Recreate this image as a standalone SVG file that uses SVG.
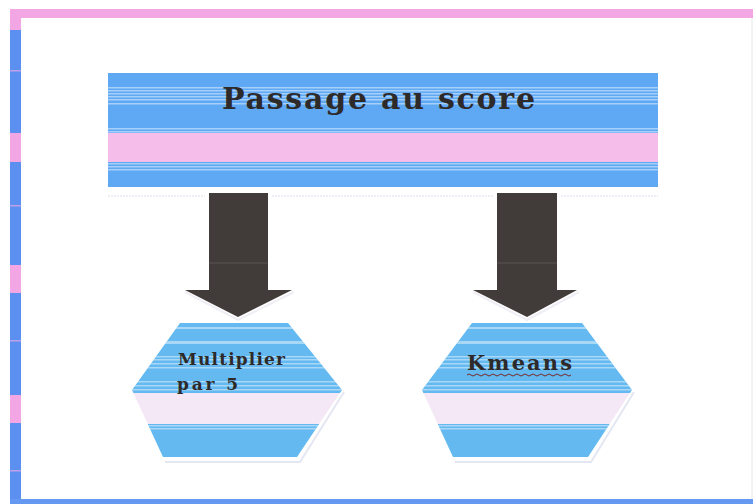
<svg xmlns="http://www.w3.org/2000/svg" width="753" height="504" viewBox="0 0 753 504">
<style>
.t{font-family:"DejaVu Serif","Liberation Serif",serif;font-weight:bold;fill:#2e2a2a}
.stripe{fill:#ffffff;opacity:0.45}
.arrow{fill:#413b39}
.faint{stroke:#dcdde8;stroke-width:1;fill:none;stroke-dasharray:2 1}
</style>
<defs>
<clipPath id="hex1"><polygon points="180,323 288,323 342,390 297,457 163,457 132,390"/></clipPath>
<clipPath id="hex2"><polygon points="472,323 582,323 632,390 588,457 453,457 422,390"/></clipPath>
<g id="hexfill">
<rect x="0" y="323" width="753" height="70" fill="#63b9f0"/>
<rect x="0" y="327" width="753" height="2" class="stripe"/>
<rect x="0" y="341" width="753" height="3" class="stripe"/>
<rect x="0" y="356" width="753" height="1.5" class="stripe"/>
<rect x="0" y="359" width="753" height="1.5" class="stripe"/>
<rect x="0" y="363" width="753" height="1.5" class="stripe"/>
<rect x="0" y="367" width="753" height="1.5" class="stripe"/>
<rect x="0" y="381" width="753" height="1.5" class="stripe"/>
<rect x="0" y="385" width="753" height="1.5" class="stripe"/>
<rect x="0" y="389" width="753" height="1.5" class="stripe"/>
<rect x="0" y="393" width="753" height="31" fill="#f5e8f6"/>
<rect x="0" y="424" width="753" height="33" fill="#63b9f0"/>
<rect x="0" y="425" width="753" height="1.5" class="stripe"/>
<rect x="0" y="428" width="753" height="1.5" class="stripe"/>
</g>
</defs>
<rect width="753" height="504" fill="#ffffff"/>
<g id="frame">
<rect x="10" y="9" width="743" height="9" fill="#f3a6e4"/>
<rect x="10" y="18" width="11" height="484" fill="#5c90f0"/>
<rect x="10" y="18" width="11" height="12" fill="#f3a6e4"/>
<rect x="10" y="133" width="11" height="29" fill="#f3a6e4"/>
<rect x="10" y="265" width="11" height="28" fill="#f3a6e4"/>
<rect x="10" y="395" width="11" height="28" fill="#f3a6e4"/>
<rect x="10" y="70" width="11" height="1.5" fill="#e9a8e8" opacity="0.7"/>
<rect x="10" y="205" width="11" height="1.5" fill="#e9a8e8" opacity="0.7"/>
<rect x="10" y="340" width="11" height="1.5" fill="#e9a8e8" opacity="0.7"/>
<rect x="10" y="470" width="11" height="1.5" fill="#e9a8e8" opacity="0.7"/>
<rect x="10" y="499" width="743" height="5" fill="#6598f0"/>
<line x1="752" y1="18" x2="752" y2="499" stroke="#e6e6ee" stroke-width="1"/>
</g>
<g id="passage">
<rect x="108" y="73" width="550" height="114" fill="#5ea8f4"/>
<rect x="108" y="87" width="550" height="1.5" class="stripe"/>
<rect x="108" y="90" width="550" height="1.5" class="stripe"/>
<rect x="108" y="93" width="550" height="1.5" class="stripe"/>
<rect x="108" y="96" width="550" height="1.5" class="stripe"/>
<rect x="108" y="99" width="550" height="1.5" class="stripe"/>
<rect x="108" y="103" width="550" height="1.5" class="stripe"/>
<rect x="108" y="128" width="550" height="1.5" class="stripe"/>
<rect x="108" y="131" width="550" height="1.5" class="stripe"/>
<rect x="108" y="133" width="550" height="29" fill="#f5bdea"/>
<rect x="108" y="163" width="550" height="1.5" class="stripe"/>
<rect x="108" y="166" width="550" height="1.5" class="stripe"/>
<rect x="108" y="169" width="550" height="1.5" class="stripe"/>
<text class="t" x="222" y="109" font-size="30" textLength="313" lengthAdjust="spacing">Passage au score</text>
</g>
<g id="connectors">
<line class="faint" x1="108" y1="196" x2="205" y2="196"/>
<line class="faint" x1="272" y1="196" x2="493" y2="196"/>
<line class="faint" x1="561" y1="196" x2="658" y2="196"/>
<polygon class="arrow" points="209,193 268,193 268,290 292,290 238,317 185,290 209,290"/>
<line x1="209" y1="263" x2="268" y2="263" stroke="#5a5452" stroke-width="1"/>
<polyline points="185,292 238,320 294,292" fill="none" stroke="#eeeef4" stroke-width="2"/>
<polygon class="arrow" points="497,193 557,193 557,290 577,290 527,317 473,290 497,290"/>
<line x1="497" y1="263" x2="557" y2="263" stroke="#5a5452" stroke-width="1"/>
<polyline points="473,292 527,320 579,292" fill="none" stroke="#eeeef4" stroke-width="2"/>
</g>
<g id="multiplier">
<polyline points="344,392 300,462 165,462" fill="none" stroke="#e4e6f2" stroke-width="2"/>
<g clip-path="url(#hex1)"><use href="#hexfill"/></g>
<text class="t" x="178" y="365" font-size="17" textLength="107" lengthAdjust="spacing">Multiplier</text>
<text class="t" x="177" y="390" font-size="17" textLength="61" lengthAdjust="spacing">par  5</text>
</g>
<g id="kmeans">
<polyline points="634,392 591,462 455,462" fill="none" stroke="#e4e6f2" stroke-width="2"/>
<g clip-path="url(#hex2)"><use href="#hexfill"/></g>
<text class="t" x="467" y="370" font-size="21" textLength="105" lengthAdjust="spacing">Kmeans</text>
<path d="M467,375 q2,-2 4,0 t4,0 t4,0 t4,0 t4,0 t4,0 t4,0 t4,0 t4,0 t4,0 t4,0 t4,0 t4,0 t4,0 t4,0 t4,0 t4,0 t4,0 t4,0 t4,0 t4,0 t4,0 t4,0 t4,0 t4,0 t4,0" fill="none" stroke="#7a2a2a" stroke-width="1"/>
</g>
</svg>
